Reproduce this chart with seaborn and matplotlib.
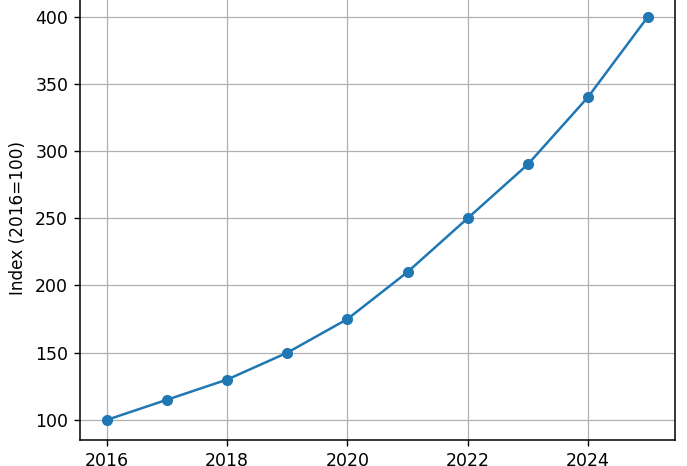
import matplotlib
matplotlib.use('Agg')
import matplotlib.pyplot as plt
import pandas as pd
import seaborn as sns

# index values, 2016 = 100
years = [2016, 2017, 2018, 2019, 2020, 2021, 2022, 2023, 2024, 2025]
index_values = [100, 115, 130, 150, 175, 210, 250, 290, 340, 400]

df = pd.DataFrame({'year': years, 'index': index_values})

plt.rcParams['font.family'] = ['DejaVu Sans']
fig = plt.figure(figsize=(6.87, 4.66), dpi=100)
# axes run slightly past the top edge, like the cropped reference
ax = fig.add_axes([80 / 687, 26 / 466, 595 / 687, 443.5 / 466])

sns.lineplot(data=df, x='year', y='index', marker='o', markersize=8,
             markeredgewidth=0, linewidth=1.8, color='#1f77b4', ax=ax)

ax.set_ylim(85, 415)
ax.set_xlim(2015.55, 2025.45)
ax.set_xticks([2016, 2018, 2020, 2022, 2024])
ax.set_yticks([100, 150, 200, 250, 300, 350, 400])
ax.grid(True, color='#b0b0b0', linewidth=0.9)
ax.set_axisbelow(True)
ax.set_xlabel('')
ax.set_ylabel('Index (2016=100)', fontsize=12.2, labelpad=6)
ax.tick_params(labelsize=12.5, length=4.5, width=1.0, pad=4)
for s in ax.spines.values():
    s.set_linewidth(1.1)

fig.savefig('out.png', dpi=100)
